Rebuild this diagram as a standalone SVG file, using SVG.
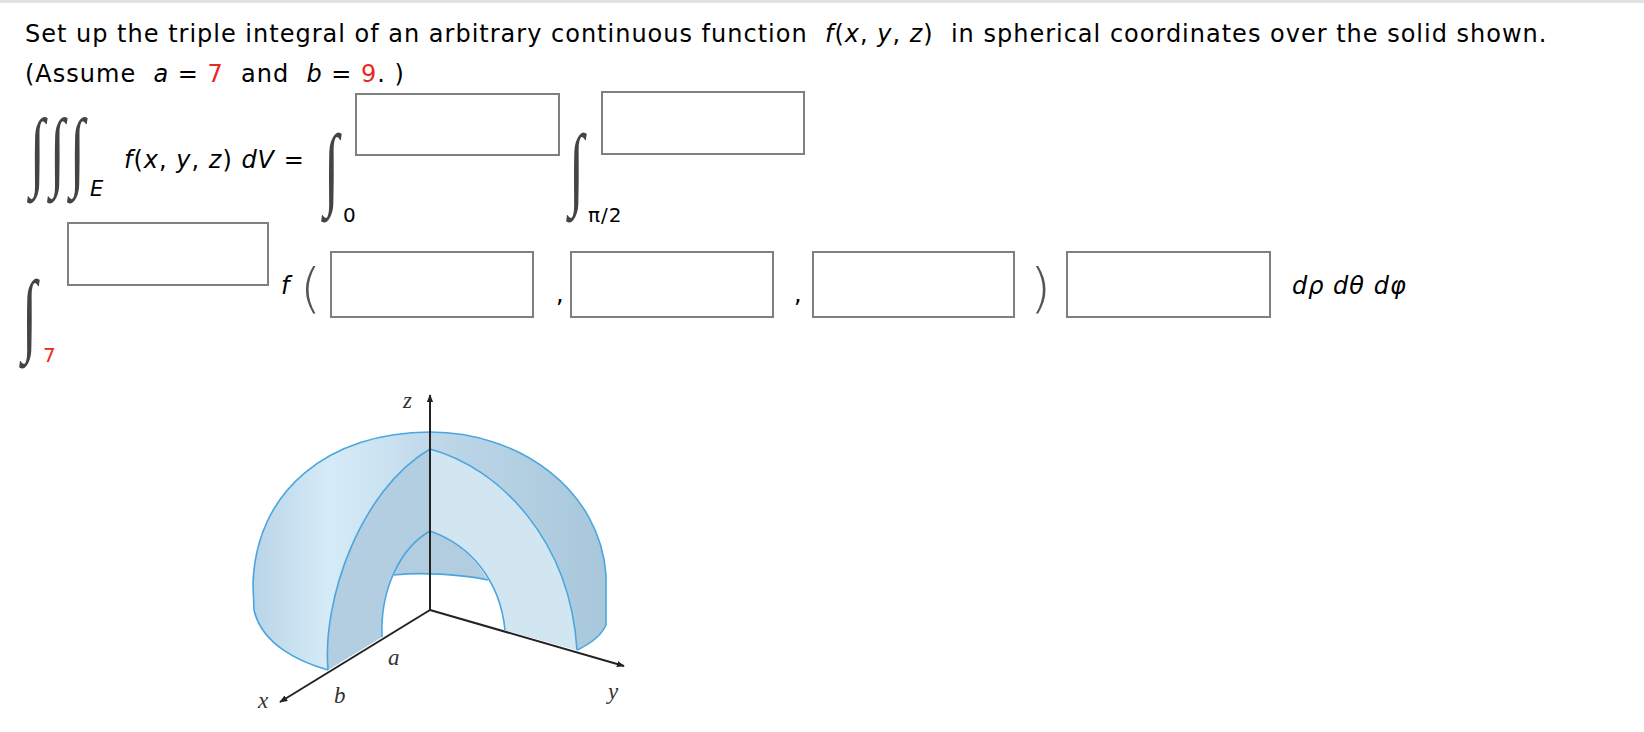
<svg xmlns="http://www.w3.org/2000/svg" width="1644" height="732" viewBox="0 0 1644 732">
<style>
.t{font-family:"DejaVu Sans",Verdana,sans-serif;font-size:24px;letter-spacing:1px;fill:#000}
.i{font-style:italic}
.r{fill:#e8281e}
.box{fill:#fff;stroke:#808080;stroke-width:2}
.int{font-family:"Liberation Serif","DejaVu Serif",serif;font-size:68px;fill:#444}
.lbl{font-family:"Liberation Serif","DejaVu Serif",serif;font-style:italic;font-size:23px;fill:#333}
.edge{fill:none;stroke:#4ba6df;stroke-width:1.6}
.ax{stroke:#222;stroke-width:2;fill:none}
</style>
<defs>
<linearGradient id="g" x1="253" y1="0" x2="607" y2="0" gradientUnits="userSpaceOnUse">
<stop offset="0" stop-color="#b9d5e8"/><stop offset="0.22" stop-color="#d6ebf7"/><stop offset="0.55" stop-color="#bcd6e8"/><stop offset="1" stop-color="#a8c7db"/>
</linearGradient>
<marker id="ar" viewBox="0 0 10 10" refX="9" refY="5" markerWidth="8" markerHeight="8" orient="auto" markerUnits="userSpaceOnUse"><path d="M0,1 L10,5 L0,9 Z" fill="#222"/></marker>
</defs>
<rect x="0" y="0" width="1644" height="732" fill="#fff"/>
<rect x="0" y="0" width="1644" height="3" fill="#e2e2e2"/>
<text class="t" x="25" y="42" xml:space="preserve">Set up the triple integral of an arbitrary continuous function  <tspan class="i">f</tspan>(<tspan class="i">x</tspan>, <tspan class="i">y</tspan>, <tspan class="i">z</tspan>)  in spherical coordinates over the solid shown.</text>
<text class="t" x="25" y="82" xml:space="preserve">(Assume  <tspan class="i">a</tspan> = <tspan class="r">7</tspan>  and  <tspan class="i">b</tspan> = <tspan class="r">9</tspan>. )</text>

<g id="lhs">
<text class="int" transform="translate(30,180) scale(0.8,1.3)">∫</text>
<text class="int" transform="translate(50,180) scale(0.8,1.3)">∫</text>
<text class="int" transform="translate(70,180) scale(0.8,1.3)">∫</text>
<text class="t i" x="90" y="196" style="font-size:21px">E</text>
<text class="t" x="124" y="168" xml:space="preserve"><tspan class="i">f</tspan>(<tspan class="i">x</tspan>, <tspan class="i">y</tspan>, <tspan class="i">z</tspan>) <tspan class="i">dV</tspan> =</text>
</g>
<g id="int1">
<text class="int" transform="translate(324,198) scale(0.8,1.35)">∫</text>
<text class="t" x="343" y="222" style="font-size:20px">0</text>
<rect class="box" x="356" y="94" width="203" height="61"/>
</g>
<g id="int2">
<text class="int" transform="translate(569,198) scale(0.8,1.35)">∫</text>
<text class="t" x="588" y="222" style="font-size:20px">π/2</text>
<rect class="box" x="602" y="92" width="202" height="62"/>
</g>
<g id="int3">
<text class="int" transform="translate(22,344) scale(0.8,1.35)">∫</text>
<text class="t r" x="43" y="362" style="font-size:20px">7</text>
<rect class="box" x="68" y="223" width="200" height="62"/>
</g>
<g id="integrand">
<text class="t i" x="281" y="294">f</text>
<text x="300" y="307" style="font-family:'DejaVu Sans',sans-serif;font-size:54px;fill:#555;font-weight:200">(</text>
<rect class="box" x="331" y="252" width="202" height="65"/>
<text class="t" x="556" y="302">,</text>
<rect class="box" x="571" y="252" width="202" height="65"/>
<text class="t" x="794" y="302">,</text>
<rect class="box" x="813" y="252" width="201" height="65"/>
<text x="1030" y="307" style="font-family:'DejaVu Sans',sans-serif;font-size:54px;fill:#555;font-weight:200">)</text>
<rect class="box" x="1067" y="252" width="203" height="65"/>
<text class="t i" x="1292" y="294">dρ dθ dφ</text>
</g>

<g id="solid">
<path d="M328,670 C300,662 262,645 254,610 L253,585 C255,490 330,432 430,432 C520,432 600,490 606,575 L606,625 C600,638 588,645 577,650 L505,630 L430,610 L382,637 Z" fill="url(#g)"/>
<path d="M328,670 C322,600 360,490 430,449 L430,531 C400,548 380,590 382,637 Z" fill="#b3cee1"/>
<path d="M430,449 C500,468 570,540 577,650 L505,630 C500,580 470,545 430,531 Z" fill="#d2e6f1"/>
<path d="M382,637 C380,590 400,548 430,531 C470,545 500,580 505,630 L430,610 Z" fill="#fff"/>
<path d="M394,575 C398,560 412,540 430,531 C455,540 475,558 488,580 C460,574 420,572 394,575 Z" fill="#b2cde0"/>
<path class="edge" d="M328,670 C300,662 262,645 254,610 L253,585 C255,490 330,432 430,432 C520,432 600,490 606,575 L606,625 C600,638 588,645 577,650"/>
<path class="edge" d="M328,670 C322,600 360,490 430,449 C500,468 570,540 577,650"/>
<path class="edge" d="M382,637 C380,590 400,548 430,531 C470,545 500,580 505,630"/>
<path class="edge" d="M394,575 C420,572 460,574 488,580"/>
</g>
<g id="axes">
<line class="ax" x1="430" y1="610" x2="430" y2="395" marker-end="url(#ar)"/>
<line class="ax" x1="430" y1="610" x2="280" y2="702" marker-end="url(#ar)"/>
<line class="ax" x1="430" y1="610" x2="624" y2="666" marker-end="url(#ar)"/>
<text class="lbl" x="403" y="408">z</text>
<text class="lbl" x="258" y="708">x</text>
<text class="lbl" x="334" y="703">b</text>
<text class="lbl" x="388" y="665">a</text>
<text class="lbl" x="608" y="699">y</text>
</g>
</svg>
